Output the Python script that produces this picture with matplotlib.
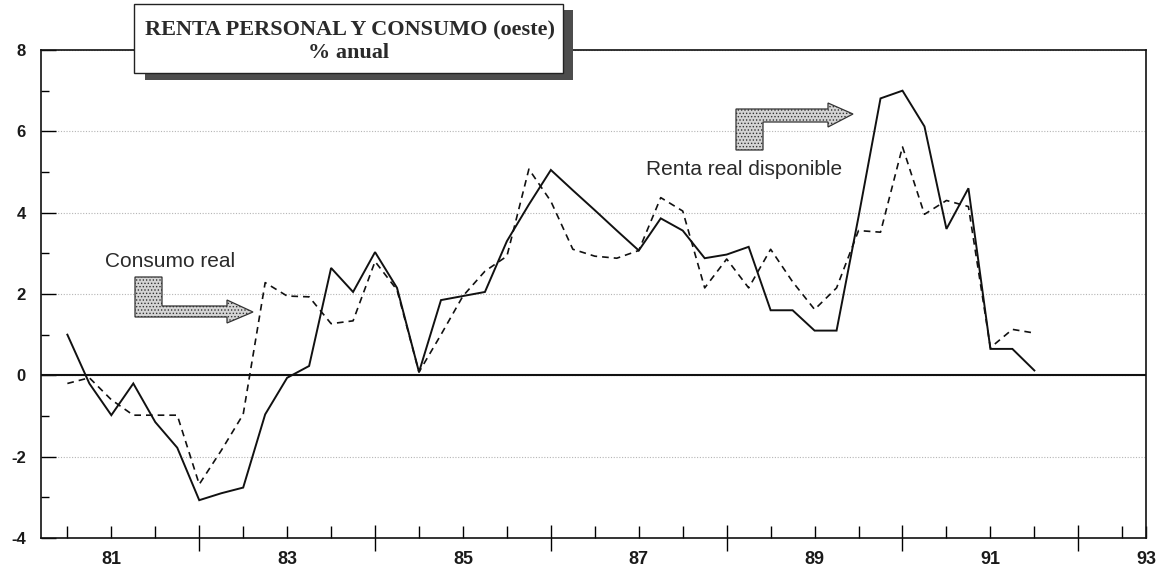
import matplotlib
matplotlib.use('Agg')
import matplotlib.pyplot as plt
from matplotlib.patches import Rectangle, Polygon

# Quarterly annual % change, first point at 80.5 (mid 1980)
start_year = 80.5
step = 0.25

renta = [1.0, -0.2, -0.98, -0.2, -1.15, -1.78, -3.07, -2.9, -2.76, -0.96,
         -0.06, 0.23, 2.64, 2.05, 3.03, 2.15, 0.08, 1.85, 1.95, 2.05,
         3.3, 4.2, 5.05, 4.55, 4.06, 3.56, 3.07, 3.86, 3.56, 2.88,
         2.97, 3.16, 1.6, 1.6, 1.1, 1.1, 3.9, 6.81, 7.0, 6.12,
         3.6, 4.6, 0.65, 0.65, 0.12]

consumo = [-0.2, -0.06, -0.6, -0.98, -0.98, -0.98, -2.68, -1.85, -0.96, 2.28,
           1.95, 1.93, 1.27, 1.34, 2.8, 2.1, 0.08, 1.0, 1.95, 2.56,
           2.93, 5.07, 4.28, 3.1, 2.93, 2.88, 3.07, 4.37, 4.04, 2.15,
           2.86, 2.15, 3.1, 2.3, 1.62, 2.15, 3.56, 3.52, 5.62, 3.96,
           4.3, 4.15, 0.68, 1.13, 1.04]

quarters = [start_year + step * i for i in range(len(renta))]

label_years = [81, 83, 85, 87, 89, 91]
long_tick_years = [82, 84, 86, 88, 90, 92]
y_major = [-4, -2, 0, 2, 4, 6, 8]
y_minor = [-3, -1, 1, 3, 5, 7]

W, H = 1166, 569
X_MIN, X_MAX = 80.2, 92.77


def fp(x, y):
    """image pixel -> figure fraction"""
    return x / W, 1 - y / H


plt.rcParams['hatch.linewidth'] = 0.6
plt.rcParams['axes.unicode_minus'] = False

fig = plt.figure(figsize=(W / 100, H / 100), dpi=100)
ax = fig.add_axes([41 / W, 1 - 538 / H, 1105 / W, 488 / H])

ax.plot(quarters, renta, color='#111111', lw=1.4, solid_joinstyle='miter', zorder=4)
ax.plot(quarters, consumo, color='#111111', lw=1.2, dashes=(4, 3), zorder=4)
ax.axhline(0, color='#111111', lw=1.5, zorder=3)

ax.set_xlim(X_MIN, X_MAX)
ax.set_ylim(-4, 8)

# y axis
ax.set_yticks(y_major)
ax.set_yticks(y_minor, minor=True)
ax.tick_params(axis='y', which='major', direction='in', length=11, width=1, pad=11,
               labelsize=12, labelcolor='#1a1a1a')
ax.tick_params(axis='y', which='minor', direction='in', length=6, width=1)
for lab in ax.get_yticklabels():
    lab.set_fontfamily('Liberation Sans')
    lab.set_fontweight('bold')
ax.grid(axis='y', which='major', color='#b5b5b5', lw=0.8, ls=(0, (1, 1.5)))

# x axis: long unlabeled ticks at even years, short ticks each half year,
# labels at odd years and at the right end
half_years = [80.5 + 0.5 * i for i in range(25)]
minor_pos = [h for h in half_years if h not in long_tick_years] + [X_MAX]
minor_lab = [str(int(h)) if h in label_years else '' for h in minor_pos[:-1]] + ['93']
ax.set_xticks(long_tick_years, [''] * len(long_tick_years))
ax.set_xticks(minor_pos, minor_lab, minor=True)
ax.tick_params(axis='x', which='major', direction='inout', length=19, width=1)
ax.tick_params(axis='x', which='minor', direction='in', length=8.6, width=1, pad=9,
               labelsize=13, labelcolor='#1a1a1a')
for lab in ax.get_xticklabels(minor=True):
    lab.set_fontfamily('Liberation Sans')
    lab.set_fontweight('bold')

for s in ax.spines.values():
    s.set_color('#111111')
    s.set_linewidth(1.2)

# title box with shadow
shadow = Rectangle(fp(145, 80), (573 - 145) / W, (80 - 10) / H, transform=fig.transFigure,
                   facecolor='#4d4d4d', edgecolor='none', zorder=5)
box = Rectangle(fp(134, 73), (563 - 134) / W, (73 - 4) / H, transform=fig.transFigure,
                facecolor='white', edgecolor='#222222', lw=1.0, zorder=6)
fig.add_artist(shadow)
fig.add_artist(box)
fig.text(*fp(350, 35), 'RENTA PERSONAL Y CONSUMO (oeste)', ha='center', va='baseline',
         fontsize=16, fontweight='bold', family='Liberation Serif', color='#2a2a2a', zorder=7)
fig.text(*fp(348, 58), '% anual', ha='center', va='baseline',
         fontsize=16, fontweight='bold', family='Liberation Serif', color='#2a2a2a', zorder=7)

# series annotations with stippled L-shaped arrows
fig.text(*fp(105, 267), 'Consumo real', ha='left', va='baseline', fontsize=15,
         family='Liberation Sans', color='#2a2a2a')
fig.text(*fp(646, 175), 'Renta real disponible', ha='left', va='baseline', fontsize=15,
         family='Liberation Sans', color='#2a2a2a')

arrow_consumo = [(135, 277), (162, 277), (162, 306), (227, 306), (227, 300), (253, 312),
                 (227, 323), (227, 317), (135, 317)]
arrow_renta = [(736, 150), (736, 109), (828, 109), (828, 103), (853, 114), (828, 127),
               (828, 122), (763, 122), (763, 150)]
for pts in (arrow_consumo, arrow_renta):
    poly = Polygon([fp(x, y) for x, y in pts], closed=True, transform=fig.transFigure,
                   facecolor='#d4d4d4', edgecolor='#333333', lw=0.9, hatch='.....', zorder=6)
    fig.add_artist(poly)

fig.savefig('out.png', dpi=100, facecolor='white')
